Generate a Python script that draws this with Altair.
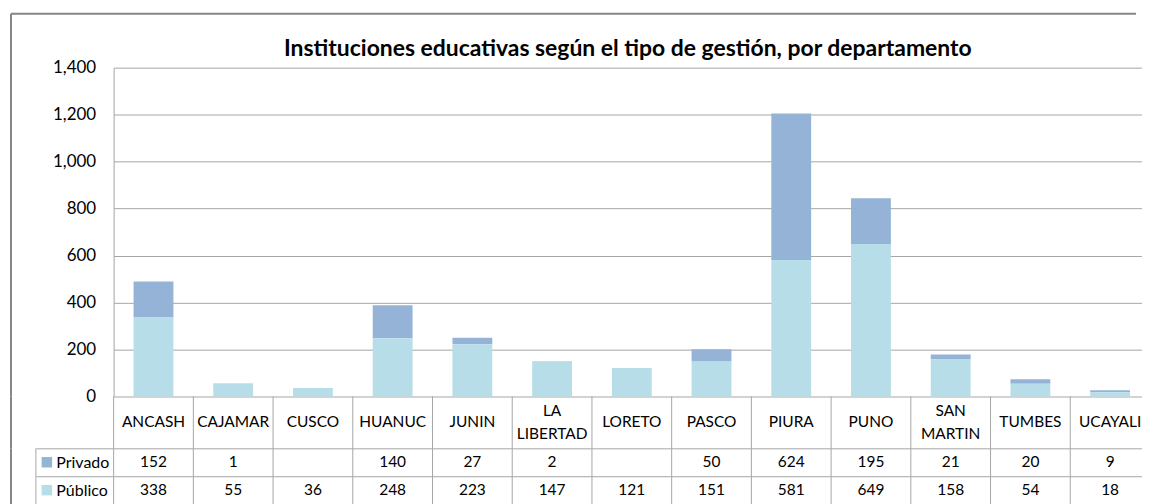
import altair as alt
import pandas as pd

# ---- data ----
departamentos = ["ANCASH", "CAJAMAR", "CUSCO", "HUANUC", "JUNIN", "LA LIBERTAD",
                 "LORETO", "PASCO", "PIURA", "PUNO", "SAN MARTIN", "TUMBES", "UCAYALI"]
etiquetas = ["ANCASH", "CAJAMAR", "CUSCO", "HUANUC", "JUNIN", "LA\nLIBERTAD",
             "LORETO", "PASCO", "PIURA", "PUNO", "SAN\nMARTIN", "TUMBES", "UCAYALI"]
privado = [152, 1, None, 140, 27, 2, None, 50, 624, 195, 21, 20, 9]
publico = [338, 55, 36, 248, 223, 147, 121, 151, 581, 649, 158, 54, 18]
series = ["Privado", "Público"]
colores = ["#95B3D7", "#B7DEE8"]
y_ticks = [0, 200, 400, 600, 800, 1000, 1200, 1400]
titulo = "Instituciones educativas según el tipo de gestión, por departamento"

FONT = "Lato"
GRID = "#A6A6A6"
BORDER = "#868686"

rows = []
for d, pv, pb in zip(departamentos, privado, publico):
    rows.append({"dep": d, "serie": "Privado", "valor": pv, "orden": 1,
                 "texto": "" if pv is None else str(pv)})
    rows.append({"dep": d, "serie": "Público", "valor": pb, "orden": 0,
                 "texto": "" if pb is None else str(pb)})
df = pd.DataFrame(rows)
df_bars = df.dropna(subset=["valor"])
df_head = pd.DataFrame({"dep": departamentos, "etiqueta": etiquetas})
df_leg = pd.DataFrame({"serie": series})
one = pd.DataFrame({"a": [0]})

color = alt.Color("serie:N", scale=alt.Scale(domain=series, range=colores), legend=None)

W = 1026          # visible plot width (page is cropped on the right like the reference)
STEP_RANGE = [0, 1040]  # 13 bands of 80 px

band0 = alt.Scale(domain=departamentos, range=STEP_RANGE, paddingInner=0, paddingOuter=0)

# ---- bar chart ----
bars = alt.Chart(df_bars).mark_bar().encode(
    x=alt.X("dep:N", sort=departamentos,
            scale=alt.Scale(domain=departamentos, range=STEP_RANGE,
                            paddingInner=0.5, paddingOuter=0.25),
            axis=None),
    y=alt.Y("valor:Q", stack="zero",
            scale=alt.Scale(domain=[0, 1400], nice=False),
            axis=alt.Axis(values=y_ticks, format=",.0f", title=None, ticks=False,
                          labelPadding=18, labelFont=FONT, labelFontSize=17,
                          labelColor="#000000", domainColor=GRID, gridColor=GRID,
                          labelFlush=False)),
    color=color,
    order=alt.Order("orden:Q"),
)

title_mark = alt.Chart(one).mark_text(
    font=FONT, fontSize=23, fontWeight="bold", color="#000000",
    align="center", baseline="alphabetic"
).encode(x=alt.value(516), y=alt.value(-12), text=alt.value(titulo))

border_top = alt.Chart(one).mark_rule(color=BORDER, strokeWidth=2).encode(
    x=alt.value(-103), x2=alt.value(W), y=alt.value(-54))
border_left_top = alt.Chart(one).mark_rule(color=BORDER, strokeWidth=2).encode(
    x=alt.value(-103), y=alt.value(-54), y2=alt.value(330))

top = alt.layer(border_top, border_left_top, bars, title_mark).properties(width=W, height=330)

# ---- table: cell dividers ----
dividers = alt.Chart(df_head).mark_rule(color=GRID).encode(
    x=alt.X("dep:N", sort=departamentos, scale=band0, bandPosition=0, axis=None),
)

# ---- header row of data table ----
head_one = alt.Chart(df_head).transform_filter(
    "indexof(datum.etiqueta, '\\n') < 0"
).mark_text(font=FONT, fontSize=15.5, baseline="middle", color="#000000").encode(
    x=alt.X("dep:N", sort=departamentos, scale=band0, axis=None),
    text="etiqueta:N",
)
head_two = alt.Chart(df_head).transform_filter(
    "indexof(datum.etiqueta, '\\n') >= 0"
).mark_text(font=FONT, fontSize=15.5, baseline="middle", color="#000000",
            lineBreak="\n", lineHeight=23, dy=-11.5).encode(
    x=alt.X("dep:N", sort=departamentos, scale=band0, axis=None),
    text="etiqueta:N",
)
border_left_head = alt.Chart(one).mark_rule(color=BORDER, strokeWidth=2).encode(
    x=alt.value(-103), y=alt.value(0), y2=alt.value(52))
header = alt.layer(border_left_head, dividers, head_one, head_two).properties(width=W, height=52)

# ---- value rows of data table ----
ysc = alt.Scale(domain=series, paddingInner=0, paddingOuter=0)
val_text = alt.Chart(df).mark_text(
    font=FONT, fontSize=15.5, baseline="middle", color="#000000"
).encode(
    x=alt.X("dep:N", sort=departamentos, scale=band0, axis=None),
    y=alt.Y("serie:N", sort=series, scale=ysc,
            axis=alt.Axis(title=None, tickBand="extent", tickSize=78, tickColor=GRID,
                          labelAlign="left", labelPadding=-20, labelFont=FONT,
                          labelFontSize=16, labelColor="#000000", domain=False,
                          grid=True, gridColor=GRID)),
    text="texto:N",
)
squares = alt.Chart(df_leg).mark_square(size=110, opacity=1).encode(
    x=alt.value(-67),
    y=alt.Y("serie:N", sort=series, scale=ysc),
    color=color,
)
left_box = alt.Chart(one).mark_rule(color=GRID).encode(
    x=alt.value(-78), y=alt.value(0), y2=alt.value(56))
border_left_vals = alt.Chart(one).mark_rule(color=BORDER, strokeWidth=2).encode(
    x=alt.value(-103), y=alt.value(0), y2=alt.value(56))
values = alt.layer(border_left_vals, left_box, dividers, val_text, squares).properties(
    width=W, height=56)

chart = alt.vconcat(top, header, values, spacing=0, bounds="flush").properties(
    padding={"left": 2, "top": 4, "right": 0, "bottom": 0},
    background="white",
).configure_view(strokeWidth=0)

chart.save("out.html", embed_options={"renderer": "svg", "actions": False})
